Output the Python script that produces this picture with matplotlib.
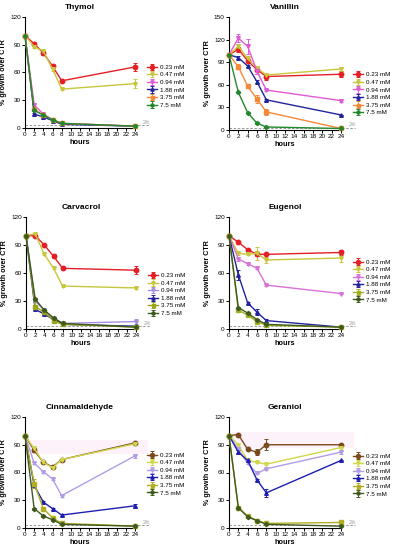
import numpy as np
from matplotlib import pyplot as plt

plt.rcParams['font.family'] = ['Liberation Sans', 'DejaVu Sans']

hours = [0, 2, 4, 6, 8, 24]
doses = ['0.23 mM', '0.47 mM', '0.94 mM', '1.88 mM', '3.75 mM', '7.5 mM']

# % growth over CTR, one row per dose (0.23 ... 7.5 mM)
thymol = [[100, 91, 81, 67, 51, 66],
          [100, 88, 83, 64, 42, 48],
          [100, 25, 15, 9, 5, 2],
          [100, 15, 12, 8, 4, 2],
          [100, 20, 14, 9, 5, 2],
          [100, 19, 14, 9, 5, 2]]
thymol_err = [[0, 2, 2, 2, 1, 4],
              [0, 1, 2, 2, 1, 5],
              [0, 2, 1, 1, 0, 0],
              [0, 1, 1, 1, 0, 0],
              [0, 1, 1, 1, 0, 0],
              [0, 1, 1, 1, 0, 0]]

vanillin = [[100, 107, 92, 80, 71, 74],
            [100, 111, 95, 82, 73, 81],
            [100, 122, 111, 78, 53, 39],
            [100, 96, 85, 64, 40, 20],
            [100, 84, 58, 41, 24, 2],
            [100, 50, 23, 9, 4, 2]]
vanillin_err = [[0, 3, 2, 5, 4, 4],
                [0, 3, 2, 3, 2, 3],
                [0, 5, 10, 4, 1, 2],
                [0, 2, 1, 2, 1, 0],
                [0, 3, 1, 5, 4, 0],
                [0, 1, 1, 1, 0, 0]]

carvacrol = [[100, 100, 90, 78, 65, 63],
             [100, 102, 80, 65, 46, 44],
             [100, 30, 20, 11, 6, 8],
             [100, 21, 16, 10, 5, 3],
             [100, 24, 18, 9, 5, 2],
             [100, 32, 20, 12, 6, 2]]
carvacrol_err = [[0, 1, 1, 2, 1, 4],
                 [0, 1, 1, 1, 1, 1],
                 [0, 1, 1, 1, 0, 3],
                 [0, 1, 1, 1, 0, 0],
                 [0, 1, 1, 1, 0, 0],
                 [0, 1, 1, 1, 0, 0]]

eugenol = [[100, 93, 85, 80, 80, 82],
           [100, 81, 80, 81, 74, 76],
           [100, 75, 70, 65, 47, 38],
           [100, 58, 28, 18, 9, 2],
           [100, 20, 15, 8, 4, 2],
           [100, 23, 17, 10, 5, 2]]
eugenol_err = [[0, 1, 1, 2, 1, 3],
               [0, 2, 1, 7, 3, 4],
               [0, 2, 1, 1, 1, 1],
               [0, 5, 1, 3, 2, 0],
               [0, 1, 1, 1, 0, 0],
               [0, 1, 1, 1, 0, 0]]

cinnamaldehyde = [[100, 84, 71, 66, 74, 92],
                  [100, 86, 71, 65, 74, 91],
                  [100, 70, 61, 53, 35, 78],
                  [100, 46, 28, 21, 14, 24],
                  [100, 48, 21, 11, 5, 2],
                  [100, 21, 13, 9, 4, 2]]
cinnamaldehyde_err = [[0, 2, 1, 1, 1, 1],
                      [0, 3, 1, 1, 1, 1],
                      [0, 1, 1, 1, 1, 2],
                      [0, 1, 1, 1, 1, 2],
                      [0, 5, 1, 1, 0, 0],
                      [0, 1, 1, 1, 0, 0]]

geraniol = [[100, 101, 85, 82, 90, 90],
            [100, 90, 73, 71, 69, 87],
            [100, 85, 70, 59, 64, 82],
            [100, 82, 73, 52, 38, 73],
            [100, 22, 13, 8, 5, 6],
            [100, 22, 12, 8, 4, 2]]
geraniol_err = [[0, 1, 1, 3, 6, 1],
                [0, 1, 1, 1, 1, 1],
                [0, 1, 1, 1, 1, 2],
                [0, 2, 1, 1, 4, 1],
                [0, 1, 1, 1, 0, 1],
                [0, 1, 1, 1, 0, 0]]

colors_a = ['#e41f26', '#c8c63c', '#e05ad8', '#23239e', '#f5893a', '#22882c']
colors_b = ['#e41f26', '#c8c63c', '#a590e0', '#23239e', '#9aa51c', '#3f5a1e']
colors_c = ['#e41f26', '#c8c63c', '#d872d8', '#23239e', '#a2b022', '#3f5a1e']
colors_d = ['#7a4a1c', '#d2d64a', '#b29ce6', '#1e1eb0', '#b2ae22', '#3f5a1e']
markers = ['o', 'v', 'v', '^', 's', 'D']
msizes = [3.2, 2.6, 2.6, 2.6, 2.4, 2.2]

fig = plt.figure(figsize=(3.98, 5.5), dpi=100)
W, H = 398.0, 550.0


def make_ax(x0, x1, top, bottom):
    return fig.add_axes([x0 / W, 1 - bottom / H, (x1 - x0) / W, (bottom - top) / H])


def draw_panel(ax, title, vals, errs, cols, ymax, leg_y, band=None):
    if band is not None:
        ax.axhspan(band[0], band[1], xmin=0.03, xmax=1.12, color='#fdf2fa', zorder=0,
                   clip_on=False, lw=0)
    for i in range(len(doses)):
        ax.errorbar(hours, vals[i], yerr=errs[i], color=cols[i], marker=markers[i],
                    ms=msizes[i], lw=1.0, elinewidth=0.7, capsize=1.5, capthick=0.7,
                    label=doses[i], clip_on=False, zorder=3)
    ax.plot([0, 27], [3, 3], ls=(0, (3, 2)), color='#888888', lw=0.6, clip_on=False, zorder=1)
    ax.text(25.6, 3.5, '2%', fontsize=3.8, color='#999999', va='bottom')
    ax.set_xlim(0, 24)
    ax.set_ylim(0, ymax)
    ax.set_xticks(np.arange(0, 25, 2))
    ax.set_yticks(np.arange(0, ymax + 1, 30))
    ax.spines['top'].set_visible(False)
    ax.spines['right'].set_visible(False)
    for s in ['left', 'bottom']:
        ax.spines[s].set_linewidth(0.8)
    ax.tick_params(labelsize=4.6, length=2, width=0.7, pad=1)
    ax.set_title(title, fontsize=6, fontweight='bold', pad=6)
    ax.set_xlabel('hours', fontsize=5.3, fontweight='bold', labelpad=1)
    ax.set_ylabel('% growth over CTR', fontsize=5.1, fontweight='bold', labelpad=2)
    ax.legend(loc='upper left', bbox_to_anchor=(1.08, leg_y), frameon=False,
              fontsize=4.5, handlelength=1.6, labelspacing=0.35, handletextpad=0.5,
              borderpad=0, markerscale=0.9)


ax1 = make_ax(25, 135, 17, 128)
draw_panel(ax1, 'Thymol', thymol, thymol_err, colors_a, 120, 0.60)

ax2 = make_ax(229, 341, 17, 130)
draw_panel(ax2, 'Vanillin', vanillin, vanillin_err, colors_a, 150, 0.54)

ax3 = make_ax(26, 136, 217, 329)
draw_panel(ax3, 'Carvacrol', carvacrol, carvacrol_err, colors_b, 120, 0.53)

ax4 = make_ax(229, 341, 217, 329)
draw_panel(ax4, 'Eugenol', eugenol, eugenol_err, colors_c, 120, 0.65)

ax5 = make_ax(25, 135, 417, 528)
draw_panel(ax5, 'Cinnamaldehyde', cinnamaldehyde, cinnamaldehyde_err, colors_d, 120, 0.71,
           band=(80, 95))

ax6 = make_ax(229, 341, 417, 528)
draw_panel(ax6, 'Geraniol', geraniol, geraniol_err, colors_d, 120, 0.70, band=(87, 104))

plt.savefig('out.png', dpi=100)
